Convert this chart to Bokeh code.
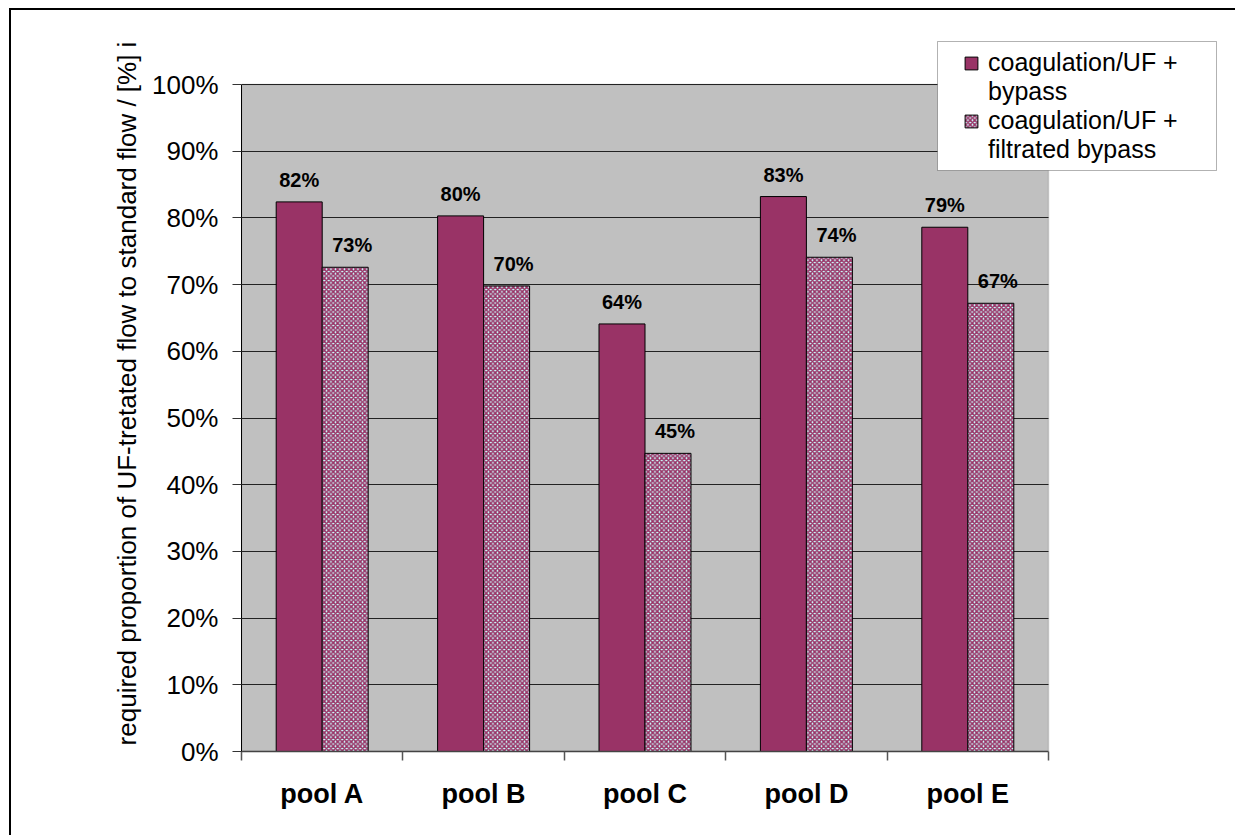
import numpy as np
from bokeh.plotting import figure
from bokeh.layouts import column
from bokeh.models import (ColumnDataSource, FixedTicker, NumeralTickFormatter, Legend,
                          LegendItem, Range1d, BoxAnnotation, Grid)
from bokeh.embed import file_html
from bokeh.resources import INLINE
from bokeh.core.properties import value

# ---- data ----
categories = ["pool A", "pool B", "pool C", "pool D", "pool E"]
series_names = [["coagulation/UF +", "bypass"], ["coagulation/UF +", "filtrated bypass"]]
bypass = [0.824, 0.803, 0.641, 0.832, 0.786]
filtrated_bypass = [0.726, 0.698, 0.447, 0.741, 0.672]
y_ticks = [0.0, 0.1, 0.2, 0.3, 0.4, 0.5, 0.6, 0.7, 0.8, 0.9, 1.0]
y_label = "required proportion of UF-tretated flow to standard flow / [%] i"

FONT = "Liberation Sans"
MAGENTA = "#993366"
BAR_W = 0.285
N = len(categories)
Y_MAX = 1.0

# canvas starts at (OX, OY) because of the wrapper's margin + border
OX, OY = 11, 10
FRAME_TOP = 35
FRAME_RIGHT = 1222
px_per_unit_y = (751 - 84) / Y_MAX
px_per_cat = (1048 - 241) / N
y_end = (751 - FRAME_TOP) / px_per_unit_y
x_end = (FRAME_RIGHT - 241) / px_per_cat

def sx(px):  # screen x -> data x
    return (px - 241) / px_per_cat

def sy(py):  # screen y -> data y
    return (751 - py) / px_per_unit_y

idx = np.arange(N) + 0.5
src1 = ColumnDataSource(dict(x=idx - BAR_W / 2, top=bypass,
                             lab=[f"{round(v * 100)}%" for v in bypass]))
src2 = ColumnDataSource(dict(x=idx + BAR_W / 2, top=filtrated_bypass,
                             lab=[f"{round(v * 100)}%" for v in filtrated_bypass]))

W = 1235 - OX
H = 835 - OY
p = figure(width=W, height=H, output_backend="svg", toolbar_location=None,
           x_range=Range1d(0, x_end), y_range=Range1d(0, y_end),
           min_border_left=241 - OX, min_border_right=W + OX - FRAME_RIGHT,
           min_border_top=FRAME_TOP - OY, min_border_bottom=835 - 751)

p.background_fill_color = "white"
p.border_fill_color = "white"
p.outline_line_color = None

# grey plot area
p.add_layout(BoxAnnotation(left=0, right=N, bottom=0, top=Y_MAX,
                           fill_color="#C0C0C0", fill_alpha=1,
                           line_color="#808080", line_width=1.5, level="image"))

# horizontal gridlines limited to the plot area
if "cross_bounds" in Grid.properties():
    p.ygrid.ticker = FixedTicker(ticks=y_ticks)
    p.ygrid.cross_bounds = (0, N)
    p.ygrid.grid_line_color = "#222222"
    p.ygrid.grid_line_width = 1.2
else:
    p.ygrid.grid_line_color = None
    p.segment(x0=[0] * len(y_ticks), x1=[N] * len(y_ticks), y0=y_ticks, y1=y_ticks,
              line_color="#222222", line_width=1.2)
p.xgrid.grid_line_color = None

r1 = p.vbar(x="x", top="top", width=BAR_W, bottom=0, source=src1,
            fill_color=MAGENTA, line_color="black", line_width=1)
r2 = p.vbar(x="x", top="top", width=BAR_W, bottom=0, source=src2,
            fill_color="#CCFFFF", line_color="black", line_width=1,
            hatch_pattern="x", hatch_color=MAGENTA, hatch_scale=4.5, hatch_weight=1.6)
# empty, invisible renderer used for the wrapped second line of each legend entry
r_blank = p.vbar(x=[], top=[], width=BAR_W, fill_color=None, line_color=None)

p.text(x="x", y="top", text="lab", source=src1, text_align="center",
       text_baseline="alphabetic", y_offset=-22,
       text_font=value(FONT), text_font_style="bold", text_font_size="20px", text_color="black")
p.text(x="x", y="top", text="lab", source=src2, text_align="center",
       text_baseline="alphabetic", y_offset=-22, x_offset=7,
       text_font=value(FONT), text_font_style="bold", text_font_size="20px", text_color="black")

# y axis
p.yaxis.bounds = (0, Y_MAX)
p.yaxis.ticker = FixedTicker(ticks=y_ticks)
p.yaxis.formatter = NumeralTickFormatter(format="0%")
p.yaxis.major_label_text_font = FONT
p.yaxis.major_label_text_font_size = "26px"
p.yaxis.major_label_text_color = "black"
p.yaxis.major_tick_out = 9
p.yaxis.major_tick_in = 0
p.yaxis.minor_tick_line_color = None
p.yaxis.major_label_standoff = 14
p.yaxis.axis_line_color = "black"
p.yaxis.major_tick_line_color = "#333333"
p.yaxis.axis_label = y_label
p.yaxis.axis_label_text_font = FONT
p.yaxis.axis_label_text_font_style = "normal"
p.yaxis.axis_label_text_font_size = "26px"
p.yaxis.axis_label_text_color = "black"
p.yaxis.axis_label_standoff = 7

# x axis: labels at category centres, ticks at category boundaries
p.xaxis.bounds = (0, N)
p.xaxis.ticker = FixedTicker(ticks=list(idx), minor_ticks=list(range(N + 1)))
p.xaxis.major_label_overrides = {float(c): n for c, n in zip(idx, categories)}
p.xaxis.major_tick_out = 0
p.xaxis.major_tick_in = 0
p.xaxis.minor_tick_out = 9
p.xaxis.minor_tick_in = 0
p.xaxis.minor_tick_line_color = "#555555"
p.xaxis.minor_tick_line_width = 1.5
p.xaxis.axis_line_color = "#444444"
p.xaxis.axis_line_width = 1.5
p.xaxis.major_label_text_font = FONT
p.xaxis.major_label_text_font_style = "bold"
p.xaxis.major_label_text_font_size = "27px"
p.xaxis.major_label_text_color = "black"
p.xaxis.major_label_standoff = 18

# legend frame + legend
p.add_layout(BoxAnnotation(left=sx(937), right=sx(1216), top=sy(41), bottom=sy(170),
                           fill_color="white", fill_alpha=1, line_color="black",
                           line_width=1, level="annotation"))
items = []
for rend, lines in zip([r1, r2], series_names):
    items.append(LegendItem(label=lines[0], renderers=[rend]))
    items.append(LegendItem(label=lines[1], renderers=[r_blank]))
legend = Legend(items=items, location=(963 - 241, 751 - 164))
legend.border_line_color = None
legend.background_fill_alpha = 0
legend.label_text_font = FONT
legend.label_text_font_size = "25px"
legend.label_text_color = "black"
legend.label_height = 28
legend.glyph_width = 16
legend.glyph_height = 16
legend.label_standoff = 9
legend.padding = 0
legend.spacing = 0
legend.margin = 0
p.add_layout(legend)

page = column(p, styles={"margin-left": "9px", "margin-top": "8px",
                         "border-left": "2px solid black", "border-top": "2px solid black"})

open("out.html", "w").write(file_html(page, INLINE))
